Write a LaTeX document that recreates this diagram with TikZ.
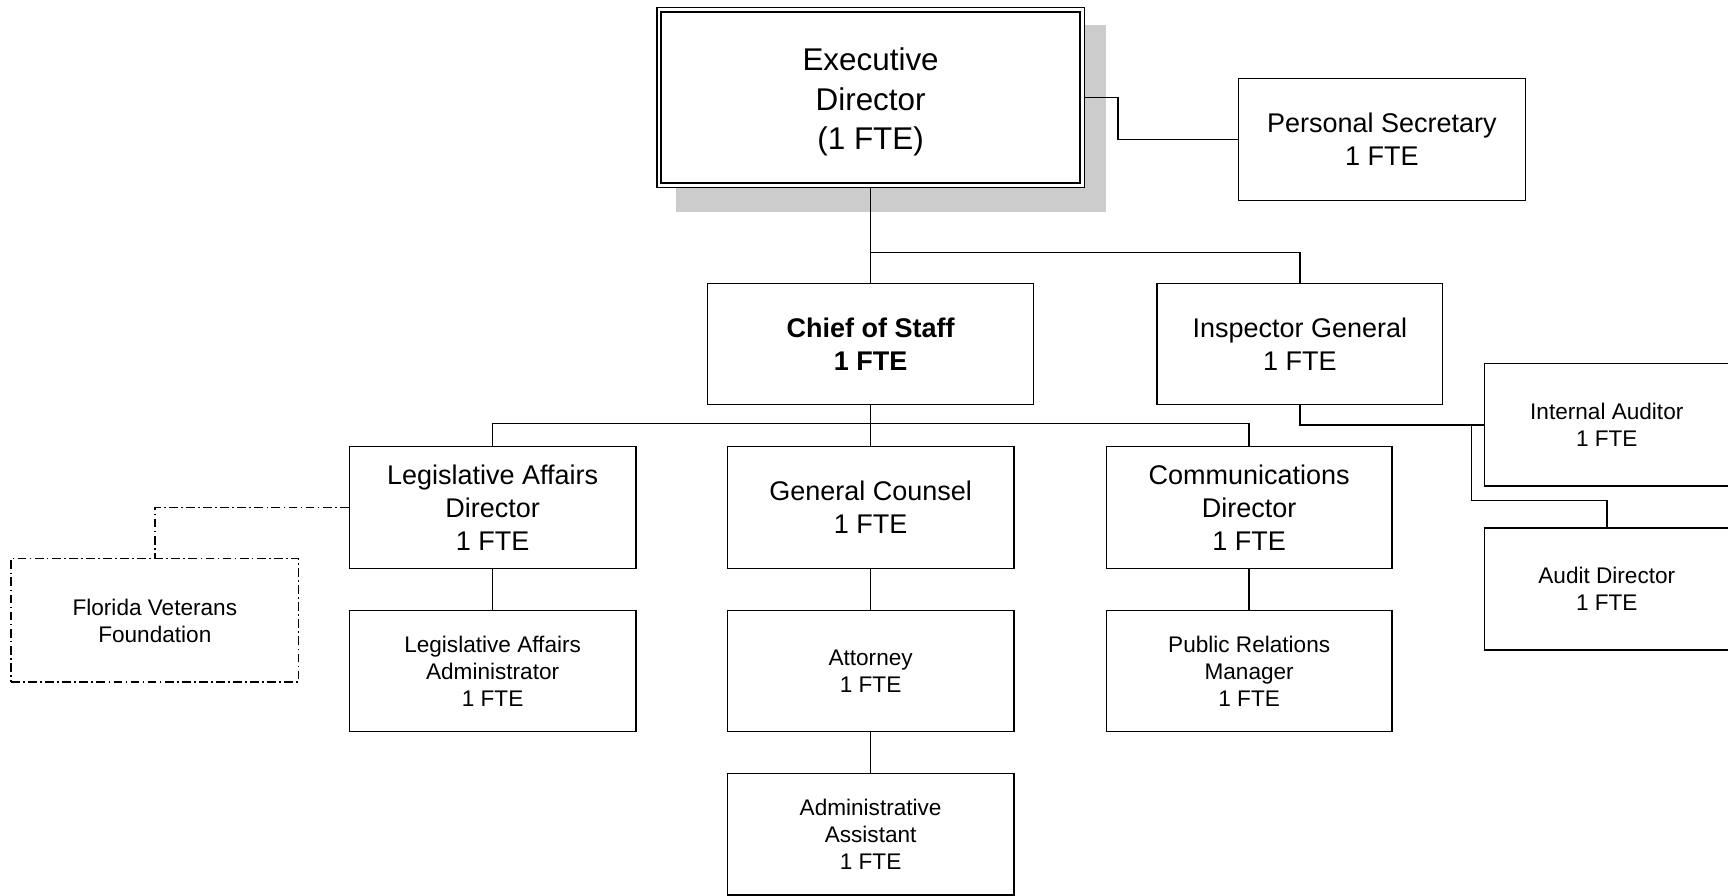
\documentclass[tikz,border=0pt]{standalone}
\usepackage{fontspec}
\setmainfont{Liberation Sans}
\usetikzlibrary{calc}

\tikzset{
  box/.style={draw, line width=1.3pt, fill=white, align=center, inner sep=0pt},
  bigtext/.style={font=\fontsize{28.5}{35.5}\selectfont},
  midtext/.style={font=\fontsize{24.5}{30}\selectfont},
  smalltext/.style={font=\fontsize{20.5}{24.5}\selectfont},
  link/.style={line width=1.3pt},
  dashdotlink/.style={line width=1.3pt, dash pattern=on 8pt off 3pt on 1.5pt off 3pt},
}

\begin{document}
\begin{tikzpicture}[x=1pt, y=-1pt]
  \useasboundingbox (0,0) rectangle (1568,813);

  % shadow of the top box
  \fill[black!20] (613,23) rectangle (1004,192);

  % top level, with a double frame
  \node[box, minimum width=388pt, minimum height=163pt] (ED) at (790,88.5) {};
  \draw[line width=1.3pt] ($(ED.north west)+(4.5,4.5)$) rectangle ($(ED.south east)+(-4.5,-4.5)$);
  \node[bigtext, align=center, inner sep=0pt] (EDtext) at ($(ED.center)+(0,4)$)
    {Executive\\Director\\(1 FTE)};

  \node[box, midtext, minimum width=260pt, minimum height=111pt] (PS) at (1254,126.5)
    {Personal Secretary\\1 FTE};

  % second level
  \node[box, midtext, minimum width=296pt, minimum height=110pt] (CoS) at (790,312)
    {\textbf{Chief of Staff}\\\textbf{1 FTE}};
  \node[box, midtext, minimum width=259pt, minimum height=110pt] (IG) at (1179.5,312)
    {Inspector General\\1 FTE};

  % third level
  \node[box, midtext, minimum width=260pt, minimum height=111pt] (LAD) at (447,460.5)
    {Legislative Affairs\\Director\\1 FTE};
  \node[box, midtext, minimum width=260pt, minimum height=111pt] (GC) at (790,460.5)
    {General Counsel\\1 FTE};
  \node[box, midtext, minimum width=259pt, minimum height=111pt] (CD) at (1133.5,460.5)
    {Communications\\Director\\1 FTE};

  % fourth level
  \node[box, smalltext, minimum width=260pt, minimum height=110pt] (LAA) at (447,609)
    {Legislative Affairs\\Administrator\\1 FTE};
  \node[box, smalltext, minimum width=260pt, minimum height=110pt] (ATT) at (790,609)
    {Attorney\\1 FTE};
  \node[box, smalltext, minimum width=259pt, minimum height=110pt] (PRM) at (1133.5,609)
    {Public Relations\\Manager\\1 FTE};
  \node[box, smalltext, minimum width=260pt, minimum height=110pt] (AA) at (790,757)
    {Administrative\\Assistant\\1 FTE};

  % foundation
  \node[box, smalltext, dash pattern=on 8pt off 3pt on 1.5pt off 3pt,
        minimum width=261pt, minimum height=112pt] (FVF) at (140.5,563)
    {Florida Veterans\\Foundation};

  % audit staff
  \node[box, smalltext, minimum width=222pt, minimum height=111pt] (IA) at (1458,385.5)
    {Internal Auditor\\1 FTE};
  \node[box, smalltext, minimum width=222pt, minimum height=111pt] (AD) at (1458,534.5)
    {Audit Director\\1 FTE};

  % connectors
  \draw[link] (ED.east) -- ++(30,0) |- (PS.west);
  \draw[link] (ED.south) -- (CoS.north);
  \draw[link] (ED.south |- 0,229) -| (IG.north);

  \draw[link] (CoS.south) -- (GC.north);
  \draw[link] (LAD.north) -- ++(0,-20) -| (CD.north);

  \draw[link] (LAD.south) -- (LAA.north);
  \draw[link] (GC.south) -- (ATT.north);
  \draw[link] (ATT.south) -- (AA.north);
  \draw[link] (CD.south) -- (PRM.north);

  \draw[dashdotlink] (LAD.west) -| (FVF.north);

  \draw[link] (IG.south) |- (IA.west);
  \coordinate (split) at (1335,385.5);
  \draw[link] (split) -- ++(0,68.5) -| (AD.north);
\end{tikzpicture}
\end{document}
